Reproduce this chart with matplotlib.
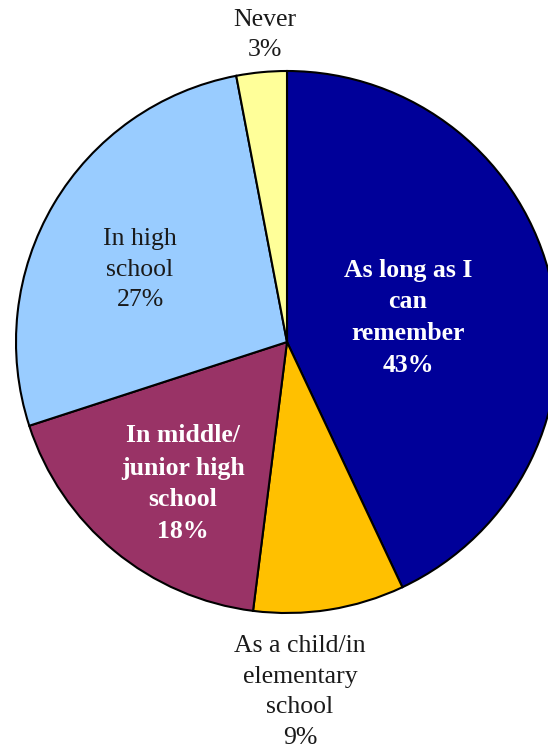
import matplotlib.pyplot as plt

# data
labels = ['As long as I\ncan\nremember', 'As a child/in\nelementary\nschool',
          'In middle/\njunior high\nschool', 'In high\nschool', 'Never']
values = [43, 9, 18, 27, 3]
colors = ['#000099', '#FFC000', '#993366', '#99CCFF', '#FFFF99']

# label placement (pixels, from top-left) and style
label_pos = [(408, 318), (300, 692), (183, 484), (140, 270), (265, 35)]
label_bold = [True, False, True, False, False]
label_color = ['white', '#1a1a1a', 'white', '#1a1a1a', '#1a1a1a']

W, H = 548, 751
fig = plt.figure(figsize=(W / 100, H / 100), dpi=100)
ax = fig.add_axes([0, 0, 1, 1])

wedges, _ = ax.pie(values, colors=colors, startangle=90, counterclock=False,
                   center=(287, H - 342), radius=271, frame=False,
                   wedgeprops=dict(edgecolor='black', linewidth=1.5))
# pie resets limits, so set them afterwards
ax.set_xlim(0, W)
ax.set_ylim(0, H)
ax.set_aspect('equal')
ax.axis('off')

for lab, v, (x, y), b, c in zip(labels, values, label_pos, label_bold, label_color):
    ax.text(x, H - y, f'{lab}\n{v}%', ha='center', va='center',
            fontsize=18.5, family='Liberation Serif',
            fontweight='bold' if b else 'normal', color=c, linespacing=1.5)

fig.savefig('out.png', dpi=100)
